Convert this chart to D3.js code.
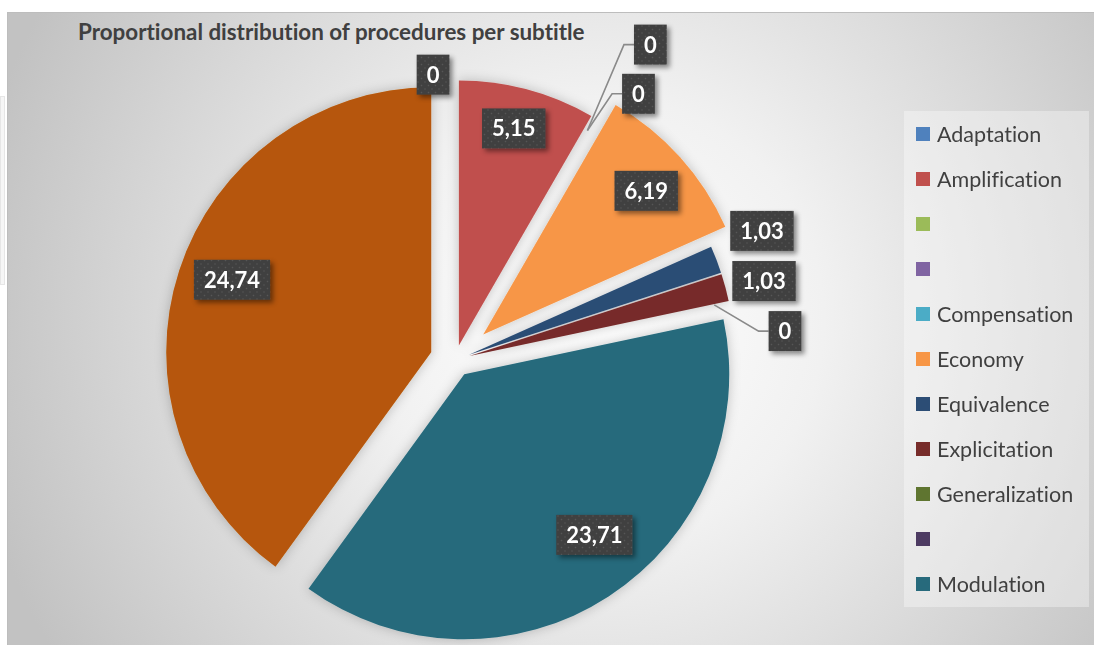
<!DOCTYPE html>
<html>
<head>
<meta charset="utf-8">
<script src="https://cdn.jsdelivr.net/npm/d3@7"></script>
<style>
  html, body { margin: 0; padding: 0; background: #ffffff; }
  svg { display: block; }
  text { font-variant-ligatures: none; }
</style>
</head>
<body>
<svg id="chart" width="1094" height="645"></svg>
<script>
// ---- data -------------------------------------------------------------
const categories = ["Adaptation", "Amplification", "", "", "Compensation", "Economy",
                    "Equivalence", "Explicitation", "Generalization", "", "Modulation", "Transposition"];
const values     = [0, 5.15, 0, null, 0, 6.19, 1.03, 1.03, 0, null, 23.71, 24.74];
const colors     = ["#4F81BD", "#C0504D", "#9BBB59", "#8064A2", "#4BACC6", "#F79646",
                    "#2C4D75", "#772C2A", "#5F7530", "#4D3B62", "#276A7C", "#B65708"];
const title = "Proportional distribution of procedures per subtitle";

// ---- layout -----------------------------------------------------------
const W = 1094, H = 645;
const center = { x: 455, y: 360 };
const radius = 265;
// how far each slice is pulled out from the centre (px)
const explodePx = [0, 15, 0, 0, 0, 38, 15, 15, 0, 0, 17, 25];
// label placement: [radius factor, angular shift in degrees] measured from the slice tip
const labelPolar = [[1.08, -4.4], [0.845, -0.8], [1.40, 1.8], null, [1.22, 4.6], [0.82, 0.6],
                    [1.20, -1.9], [1.147, 0.7], [1.25, 7], null, [0.78, -6], [0.80, 2]];
const withLeader = [false, false, true, false, true, false, false, false, true, false, false, false];

const fmt = d3.formatLocale({ decimal: ",", thousands: ".", grouping: [3], currency: ["", ""] }).format(".2~f");
const FONT = "Lato, 'Open Sans', sans-serif";

const svg = d3.select("#chart");
const defs = svg.append("defs");

// background radial gradient of the chart area
const bg = defs.append("radialGradient").attr("id", "bg")
  .attr("gradientUnits", "userSpaceOnUse")
  .attr("cx", 600).attr("cy", 320).attr("r", 640);
bg.append("stop").attr("offset", 0).attr("stop-color", "#ffffff");
bg.append("stop").attr("offset", 0.35).attr("stop-color", "#f1f1f1");
bg.append("stop").attr("offset", 1).attr("stop-color", "#c2c2c2");

// soft shadow around slices
const sf = defs.append("filter").attr("id", "sliceShadow")
  .attr("x", "-20%").attr("y", "-20%").attr("width", "140%").attr("height", "140%");
sf.append("feDropShadow").attr("dx", 0).attr("dy", 0).attr("stdDeviation", 6)
  .attr("flood-color", "#000").attr("flood-opacity", 0.22);

// drop shadow for data-label boxes
const lf = defs.append("filter").attr("id", "boxShadow")
  .attr("x", "-30%").attr("y", "-30%").attr("width", "170%").attr("height", "170%");
lf.append("feDropShadow").attr("dx", 3).attr("dy", 3).attr("stdDeviation", 2.5)
  .attr("flood-color", "#000").attr("flood-opacity", 0.45);

// dotted texture for data-label boxes
const pat = defs.append("pattern").attr("id", "dots")
  .attr("patternUnits", "userSpaceOnUse").attr("width", 7).attr("height", 7);
pat.append("rect").attr("width", 7).attr("height", 7).attr("fill", "#404040");
pat.append("circle").attr("cx", 1.5).attr("cy", 1.5).attr("r", 0.8).attr("fill", "#575757");
pat.append("circle").attr("cx", 5).attr("cy", 5).attr("r", 0.8).attr("fill", "#575757");

// ---- chart area -------------------------------------------------------
svg.append("rect").attr("x", 0.5).attr("y", 96.5).attr("width", 4).attr("height", 188)
  .attr("fill", "#f6f6f6").attr("stroke", "#e6e6e6");
svg.append("rect").attr("x", 7.5).attr("y", 12.5).attr("width", W + 10).attr("height", H + 10)
  .attr("fill", "url(#bg)").attr("stroke", "#bdbdbd");

svg.append("text").attr("x", 78).attr("y", 40)
  .attr("font-family", FONT).attr("font-weight", 700).attr("font-size", 22.4)
  .attr("fill", "#404040").text(title);

// ---- pie --------------------------------------------------------------
const data = categories.map((c, i) => ({ i, name: c, value: values[i] }));
const pie = d3.pie().sort(null).value(d => d.value == null ? 0 : d.value)
  .startAngle(0).endAngle(2 * Math.PI);
const arcs = pie(data);
const arc = d3.arc().innerRadius(0).outerRadius(radius);

// polar helper (angle measured clockwise from 12 o'clock)
const polar = (a, r) => [Math.sin(a) * r, -Math.cos(a) * r];
const tip = d => {
  const mid = (d.startAngle + d.endAngle) / 2;
  const [dx, dy] = polar(mid, explodePx[d.data.i]);
  return [center.x + dx, center.y + dy];
};

const gPie = svg.append("g").attr("filter", "url(#sliceShadow)");
gPie.selectAll("path").data(arcs.filter(d => d.endAngle - d.startAngle > 0)).join("path")
  .attr("transform", d => `translate(${tip(d)})`)
  .attr("d", arc)
  .attr("fill", d => colors[d.data.i]);

// ---- data labels ------------------------------------------------------
const gLab = svg.append("g");
arcs.forEach(d => {
  const i = d.data.i;
  if (d.data.value == null || !labelPolar[i]) return;
  const [k, shift] = labelPolar[i];
  const mid = (d.startAngle + d.endAngle) / 2;
  const t = tip(d);
  const [lx, ly] = polar(mid + shift * Math.PI / 180, radius * k);
  const cx = t[0] + lx, cy = t[1] + ly;

  const g = gLab.append("g");
  const txt = g.append("text")
    .attr("x", cx).attr("y", cy).attr("dy", "0.36em")
    .attr("text-anchor", "middle")
    .attr("font-family", FONT).attr("font-weight", 700).attr("font-size", 22)
    .attr("fill", "#ffffff").text(fmt(d.data.value));
  const tw = txt.node().getComputedTextLength();
  const bw = tw + 20, bh = 40;
  g.insert("rect", "text")
    .attr("x", cx - bw / 2).attr("y", cy - bh / 2)
    .attr("width", bw).attr("height", bh)
    .attr("fill", "url(#dots)").attr("filter", "url(#boxShadow)");

  if (withLeader[i]) {
    const [ex, ey] = polar(mid, radius);
    const p0 = [t[0] + ex, t[1] + ey];
    const boxEdge = cx > p0[0] ? cx - bw / 2 : cx + bw / 2;
    const knee = cx > p0[0] ? boxEdge - 10 : boxEdge + 10;
    gLab.insert("path", ":first-child")
      .attr("d", d3.line()([p0, [knee, cy], [boxEdge, cy]]))
      .attr("fill", "none").attr("stroke", "#8a8a8a").attr("stroke-width", 1.6);
  }
});

// ---- legend -----------------------------------------------------------
const legend = { x: 904, y: 111, w: 185, h: 496, row: 45, first: 23 };
svg.append("rect").attr("x", legend.x).attr("y", legend.y)
  .attr("width", legend.w).attr("height", legend.h)
  .attr("fill", "#ffffff").attr("fill-opacity", 0.35);
const fitRows = Math.floor((legend.h - legend.first) / legend.row) + 1;
const gLeg = svg.append("g");
data.slice(0, fitRows).forEach((d, k) => {
  const y = legend.y + legend.first + k * legend.row;
  gLeg.append("rect").attr("x", legend.x + 12).attr("y", y - 7)
    .attr("width", 14).attr("height", 14).attr("fill", colors[d.i]);
  gLeg.append("text").attr("x", legend.x + 33).attr("y", y).attr("dy", "0.36em")
    .attr("font-family", FONT).attr("font-size", 21.5).attr("fill", "#404040")
    .text(d.name);
});
</script>
</body>
</html>
